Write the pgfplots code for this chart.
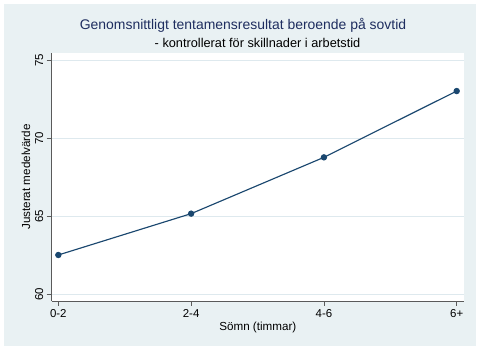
\documentclass[border=0pt]{standalone}
\usepackage{pgfplots}
\pgfplotsset{compat=1.18}
\usepackage{fontspec}
\setmainfont{Liberation Sans}
\definecolor{bgc}{RGB}{233,241,243}
\definecolor{gridc}{RGB}{222,233,238}
\definecolor{navyc}{RGB}{26,71,111}
\definecolor{dknavy}{RGB}{30,45,95}
\definecolor{axc}{RGB}{90,90,90}
\begin{document}
\begin{tikzpicture}
\useasboundingbox (0bp,0bp) rectangle (480bp,353bp);
\fill[white] (0bp,0bp) rectangle (480bp,353bp);
\fill[bgc] (4bp,7bp) rectangle (476bp,349bp);
\begin{axis}[
  at={(51.7bp,52bp)}, anchor=south west,
  scale only axis, width=412.3bp, height=248bp,
  xmin=-0.05, xmax=3.055, ymin=59.57, ymax=75.47,
  axis x line*=bottom, axis y line*=left,
  axis line style={axc, line width=0.8pt},
  axis background/.style={fill=white},
  xtick={0,1,2,3}, xticklabels={0-2,2-4,4-6,6+},
  ytick={60,65,70,75},
  ymajorgrids, grid style={gridc, line width=0.8pt},
  tick align=outside, major tick length=5bp,
  tick style={axc, line width=0.6pt},
  /pgf/number format/assume math mode=true,
  tick label style={font=\fontsize{11.5}{13}\selectfont},
  yticklabel style={rotate=90, anchor=south},
  xlabel={Sömn (timmar)},
  ylabel={Justerat medelvärde},
  label style={font=\fontsize{11.7}{13}\selectfont},
  xlabel style={yshift=2bp},
  ylabel style={yshift=-2bp},
]
\addplot[navyc, line width=1.15pt, mark=*, mark size=2.6pt, mark options={fill=navyc, draw=navyc}]
  coordinates {(0,62.52) (1,65.17) (2,68.78) (3,73.03)};
\end{axis}
\node[dknavy, font=\fontsize{14}{16}\selectfont] at (243bp,328bp) {Genomsnittligt tentamensresultat beroende på sovtid};
\node[black, font=\fontsize{12.8}{14}\selectfont] at (257.5bp,310bp) {- kontrollerat för skillnader i arbetstid};
\end{tikzpicture}
\end{document}
